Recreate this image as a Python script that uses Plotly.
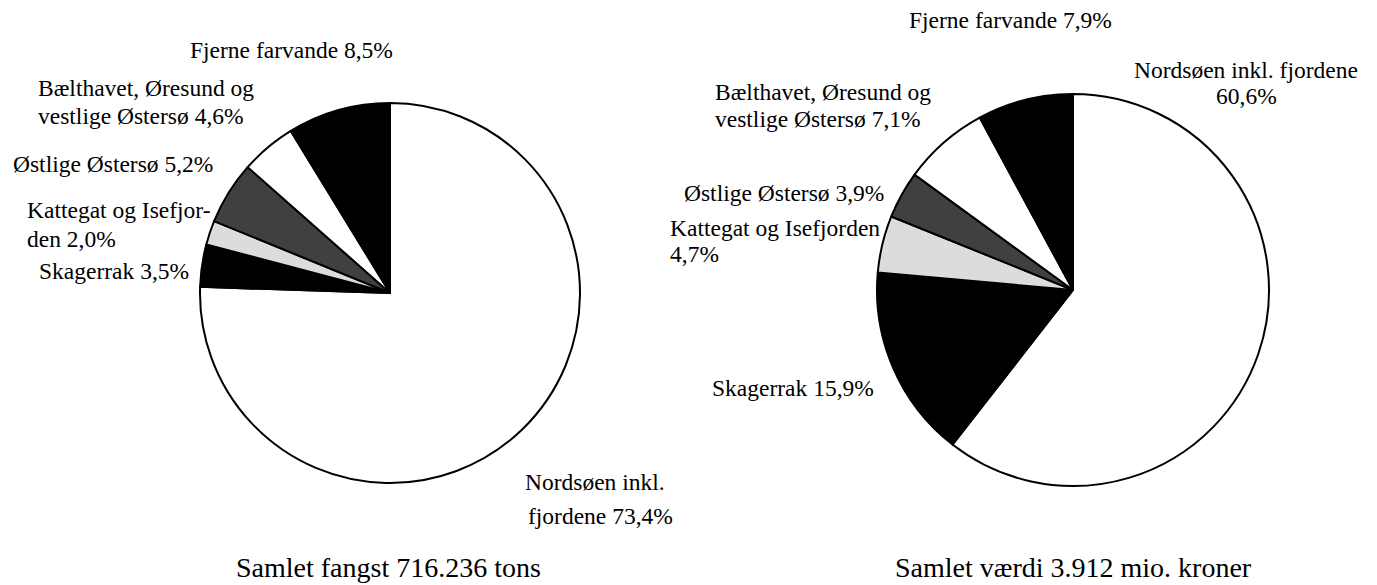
import plotly.graph_objects as go

W, H = 1377, 585

areas = ["Nordsøen inkl. fjordene", "Skagerrak", "Kattegat og Isefjorden",
         "Østlige Østersø", "Bælthavet, Øresund og vestlige Østersø", "Fjerne farvande"]
catch_pct = [73.4, 3.5, 2.0, 5.2, 4.6, 8.5]
value_pct = [60.6, 15.9, 4.7, 3.9, 7.1, 7.9]
slice_colors = ["#ffffff", "#000000", "#dcdcdc", "#404040", "#ffffff", "#000000"]

catch_title = "Samlet fangst 716.236 tons"
value_title = "Samlet værdi 3.912 mio. kroner"

# label lines: (text, x_px, y_px, anchor) in page pixels
left_labels = [
    ("Fjerne farvande 8,5%", 188, 50, "left"),
    ("Bælthavet, Øresund og", 36, 88, "left"),
    ("vestlige Østersø 4,6%", 36, 116, "left"),
    ("Østlige Østersø 5,2%", 11, 164, "left"),
    ("Kattegat og Isefjor-", 25, 210, "left"),
    ("den 2,0%", 25, 239, "left"),
    ("Skagerrak 3,5%", 37, 271, "left"),
    ("Nordsøen inkl.", 523, 482, "left"),
    ("fjordene 73,4%", 526, 516, "left"),
]
right_labels = [
    ("Fjerne farvande 7,9%", 907, 20, "left"),
    ("Nordsøen inkl. fjordene", 1246, 70, "center"),
    ("60,6%", 1246, 96, "center"),
    ("Bælthavet, Øresund og", 713, 92, "left"),
    ("vestlige Østersø 7,1%", 713, 119, "left"),
    ("Østlige Østersø 3,9%", 682, 193, "left"),
    ("Kattegat og Isefjorden", 668, 228, "left"),
    ("4,7%", 668, 254, "left"),
    ("Skagerrak 15,9%", 710, 388, "left"),
]

def px(x):
    return x / W

def py(y):
    return 1 - y / H

def dom(cx, cy, r):
    return dict(x=[px(cx - r), px(cx + r)], y=[py(cy + r), py(cy - r)])

fig = go.Figure()
fig.add_trace(go.Pie(labels=areas, values=catch_pct, sort=False, direction="clockwise",
                     marker=dict(colors=slice_colors, line=dict(color="#000000", width=2)),
                     textinfo="none", hoverinfo="label+percent", showlegend=False,
                     domain=dom(390, 293, 190)))
fig.add_trace(go.Pie(labels=areas, values=value_pct, sort=False, direction="clockwise",
                     marker=dict(colors=slice_colors, line=dict(color="#000000", width=2)),
                     textinfo="none", hoverinfo="label+percent", showlegend=False,
                     domain=dom(1073, 290, 196)))

font = dict(family="Liberation Serif, Times New Roman, serif", size=23.5, color="#000000")
for txt, x, y, anc in left_labels + right_labels:
    fig.add_annotation(text=txt, x=px(x), y=py(y), xref="paper", yref="paper",
                       xanchor=anc, yanchor="middle", showarrow=False, font=font)

tfont = dict(family="Liberation Serif, Times New Roman, serif", size=28, color="#000000")
fig.add_annotation(text=catch_title, x=px(388), y=py(567), xref="paper", yref="paper",
                   xanchor="center", yanchor="middle", showarrow=False, font=tfont)
fig.add_annotation(text=value_title, x=px(1073), y=py(567), xref="paper", yref="paper",
                   xanchor="center", yanchor="middle", showarrow=False, font=tfont)

fig.update_layout(width=W, height=H, margin=dict(l=0, r=0, t=0, b=0),
                  paper_bgcolor="#ffffff", plot_bgcolor="#ffffff")
fig.write_html("out.html", config={"displayModeBar": False},
               post_script="document.body.style.margin='0';document.body.style.padding='0';")
